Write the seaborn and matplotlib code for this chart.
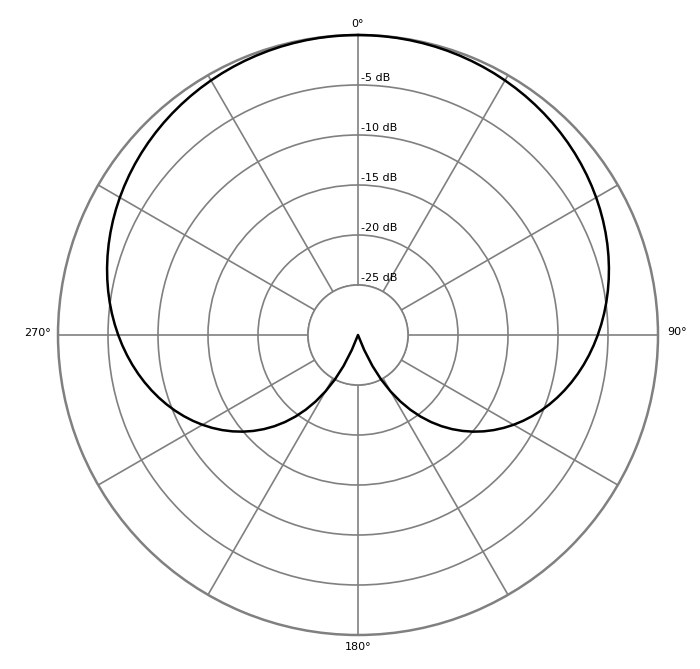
import numpy as np
import pandas as pd
import matplotlib
matplotlib.use("Agg")
import matplotlib.pyplot as plt
import seaborn as sns

# polar response, one half (the other half is its mirror image)
angle_deg = [0, 2.5, 5, 7.5, 10, 12.5, 15, 17.5, 20, 22.5, 25, 27.5, 30, 32.5, 35, 37.5,
             40, 42.5, 45, 47.5, 50, 52.5, 55, 57.5, 60, 62.5, 65, 67.5, 70, 72.5, 75,
             77.5, 80, 82.5, 85, 87.5, 90, 92.5, 95, 97.5, 100, 102.5, 105, 107.5, 110,
             112.5, 115, 117.5, 120, 122.5, 125, 127.5, 130, 132.5, 135, 137.5, 140,
             142.5, 145, 147.5, 150, 152.5, 155, 157.5, 160, 162.5, 165, 167.5, 170,
             172.5, 175, 177.5, 180]
level_db = [0.0, -0.004, -0.017, -0.037, -0.066, -0.104, -0.149, -0.203, -0.266, -0.337,
            -0.417, -0.505, -0.602, -0.708, -0.823, -0.948, -1.081, -1.223, -1.376,
            -1.537, -1.709, -1.891, -2.083, -2.286, -2.499, -2.723, -2.959, -3.206,
            -3.465, -3.737, -4.021, -4.319, -4.63, -4.955, -5.295, -5.65, -6.021, -6.408,
            -6.813, -7.235, -7.677, -8.139, -8.622, -9.127, -9.656, -10.21, -10.791,
            -11.401, -12.041, -12.714, -13.423, -14.171, -14.962, -15.798, -16.686,
            -17.63, -18.638, -19.716, -20.874, -22.124, -23.48, -24.96, -26.586, -28.391,
            -30.0, -30.0, -30.0, -30.0, -30.0, -30.0, -30.0, -30.0, -30.0]

ring_db = [-25, -20, -15, -10, -5]
ring_labels = ["-25 dB", "-20 dB", "-15 dB", "-10 dB", "-5 dB"]
spoke_deg = [0, 30, 60, 90, 120, 150, 180, 210, 240, 270, 300, 330]
compass_deg = [0, 90, 180, 270]
compass_labels = ["0°", "90°", "180°", "270°"]

full_angle = angle_deg + [360 - a for a in angle_deg[::-1][1:]]
full_level = level_db + level_db[::-1][1:]
df = pd.DataFrame({"theta": np.deg2rad(full_angle), "level": full_level})

sns.set_style("white")
plt.rcParams["font.family"] = ["DejaVu Sans"]
plt.rcParams["text.color"] = "black"

fig = plt.figure(figsize=(7, 6.69), dpi=100)
ax = fig.add_axes([58 / 700, 34 / 669, 600 / 700, 600 / 669], projection="polar")
ax.set_theta_zero_location("N")
ax.set_theta_direction(-1)

sns.lineplot(data=df, x="theta", y="level", ax=ax, color="black", lw=1.8,
             sort=False, estimator=None, clip_on=False, zorder=5)
ax.set_xlabel("")
ax.set_ylabel("")

ax.set_rorigin(-30)
ax.set_ylim(-25, 0)
ax.set_thetagrids(spoke_deg, [""] * len(spoke_deg))
ax.set_rgrids(ring_db, labels=[""] * len(ring_db))
ax.grid(True, color="gray", lw=1.2)
ax.spines["polar"].set_color("gray")
ax.spines["polar"].set_linewidth(1.8)
ax.spines["inner"].set_color("gray")
ax.spines["inner"].set_linewidth(1.2)

# ring labels just right of the 0° spoke
for r, lab in zip(ring_db, ring_labels):
    ax.annotate(lab, xy=(0, r), xytext=(2.2, 3), textcoords="offset points",
                ha="left", va="baseline", fontsize=8, annotation_clip=False)

# compass labels outside the rim
offsets = {0: ((0, 5.8), "center"), 90: ((6.5, -0.2), "left"),
           180: ((0, -10.8), "center"), 270: ((-4.8, -0.7), "right")}
for a, lab in zip(compass_deg, compass_labels):
    off, ha = offsets[a]
    ax.annotate(lab, xy=(np.deg2rad(a), 0), xytext=off, textcoords="offset points",
                ha=ha, va="baseline", fontsize=8, annotation_clip=False)

fig.savefig("out.png", dpi=100)
